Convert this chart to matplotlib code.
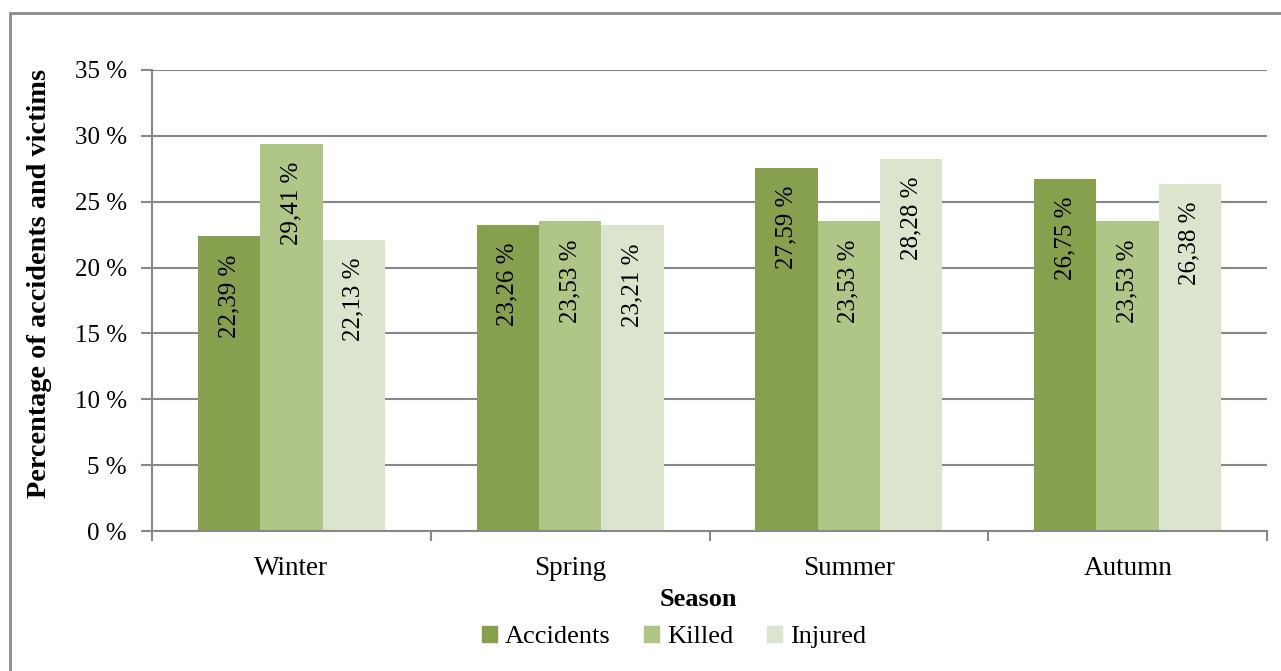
import matplotlib
matplotlib.use('Agg')

import numpy as np
import matplotlib.pyplot as plt
from matplotlib.patches import Rectangle, Patch

#========================================================
seasons = ['Winter', 'Spring', 'Summer', 'Autumn']
series = ['Accidents', 'Killed', 'Injured']
accidents = [22.39, 23.26, 27.59, 26.75]
killed = [29.41, 23.53, 23.53, 23.53]
injured = [22.13, 23.21, 28.28, 26.38]
colors = ['#86A04E', '#AFC687', '#DBE4CC']
yticks = [0, 5, 10, 15, 20, 25, 30, 35]
#========================================================

plt.rcParams['font.family'] = ['Liberation Serif', 'DejaVu Serif']
fs = 18
grey = '#888888'

W, H = 1281, 671
fig = plt.figure(figsize=(W/100., H/100.), dpi=100)
ax = fig.add_axes([152./W, 1-531./H, (1267.-152.)/W, (531.-70.)/H])

# outer chart frame (only left/top visible, rest clipped)
fig.patches.append(Rectangle((10./W, -0.1), 1.2, 1-13./H+0.1, transform=fig.transFigure,
                             fill=False, edgecolor='#8c8c8c', lw=2.0))

x = np.arange(len(seasons))
bw = 0.67/3
for i, (name, vals) in enumerate(zip(series, [accidents, killed, injured])):
    pos = x + (i-1)*bw
    ax.bar(pos, vals, bw, color=colors[i], label=name, zorder=2)
    for px, v in zip(pos, vals):
        ax.annotate(('%.2f' % v).replace('.', ',') + ' %', (px, v), xytext=(0, -13),
                    textcoords='offset points', rotation=90, ha='center', va='top',
                    fontsize=fs, zorder=3)

ax.set_xlim(-0.5, len(seasons)-0.5)
ax.set_ylim(0, 35)
ax.set_yticks(yticks)
ax.set_yticklabels(['%d %%' % t for t in yticks], fontsize=fs)
ax.set_xticks(x)
ax.set_xticklabels(seasons, fontsize=19.5)
ax.set_xticks(np.arange(len(seasons)+1)-0.5, minor=True)
ax.tick_params(axis='x', which='major', length=0, pad=18)
ax.tick_params(axis='x', which='minor', length=7, width=1.5, color=grey, direction='out')
ax.tick_params(axis='y', length=8, width=1.5, color=grey, pad=10)
ax.yaxis.grid(True, color=grey, lw=1.5, zorder=0)
ax.set_axisbelow(True)
for s in ['top', 'right']:
    ax.spines[s].set_visible(False)
for s in ['left', 'bottom']:
    ax.spines[s].set_color(grey)
    ax.spines[s].set_linewidth(1.5)

fig.text(698./W, 1-599./H, 'Season', ha='center', va='center', fontsize=19, fontweight='bold')
fig.text(40./W, 1-283./H, 'Percentage of accidents and victims', ha='center', va='center',
         rotation=90, fontsize=20.3, fontweight='bold')

handles = [Patch(color=c) for c in colors]
fig.legend(handles, series, loc='center', bbox_to_anchor=(674./W, 1-637./H), ncol=3,
           frameon=False, fontsize=19, handlelength=0.55, handleheight=0.55,
           handletextpad=0.3, columnspacing=1.3)

fig.savefig('out.png', dpi=100)
